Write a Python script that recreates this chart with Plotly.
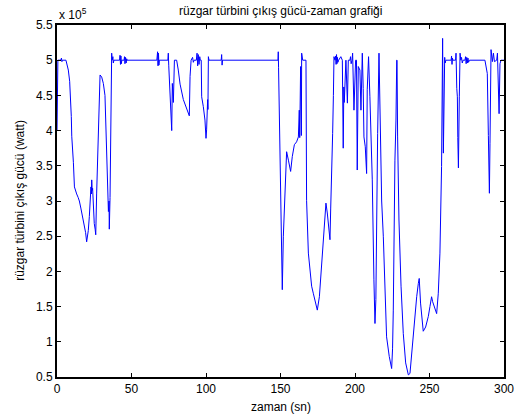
import plotly.graph_objects as go

# time (s)
zaman = [
    0.0, 0.3, 0.6, 2.5, 3.0, 3.3, 3.6, 6.0, 7.0, 7.6, 8.5, 9.2, 9.6, 9.9, 10.5, 11.0, 11.7, 12.5, 13.2, 14.2,
    15.0, 16.0, 16.6, 17.5, 18.3, 19.2, 19.9, 20.5, 21.0, 21.7, 22.1, 22.8, 23.1, 23.3, 23.6, 23.9, 24.4, 25.0,
    25.6, 26.0, 26.6, 27.3, 28.2, 28.9, 30.0, 31.1, 32.2, 32.7, 33.3, 34.0, 34.5, 34.9, 35.1, 35.6, 36.0, 36.4,
    36.7, 37.0, 37.5, 37.8, 38.2, 42.0, 42.3, 42.6, 42.9, 43.2, 43.5, 45.0, 45.3, 45.6, 46.0, 46.4, 46.8, 47.0,
    67.0, 67.5, 67.8, 68.1, 68.4, 68.7, 74.4, 74.7, 75.0, 75.4, 76.0, 77.0, 77.4, 78.1, 78.8, 80.3, 81.4, 82.6,
    84.8, 87.1, 88.8, 89.3, 90.0, 91.0, 91.5, 92.0, 93.5, 94.0, 94.4, 94.8, 95.3, 95.8, 96.2, 96.8, 97.1, 98.2,
    99.3, 100.0, 100.4, 101.1, 101.3, 101.6, 102.0, 110.2, 110.5, 110.8, 111.1, 148.3, 148.5, 148.7, 149.2,
    150.1, 150.8, 151.2, 151.9, 152.6, 153.5, 154.1, 155.3, 156.8, 157.9, 159.3, 160.8, 162.0, 162.6, 162.9,
    163.5, 164.0, 164.2, 164.9, 167.1, 167.5, 168.7, 169.8, 170.9, 172.0, 173.2, 174.7, 176.1, 177.2, 178.3,
    179.4, 180.5, 181.4, 182.3, 183.2, 183.7, 184.3, 185.0, 185.5, 185.9, 186.6, 187.0, 187.3, 187.6, 187.9,
    188.2, 188.5, 189.0, 190.5, 191.0, 191.5, 192.1, 192.5, 192.8, 193.9, 194.9, 195.5, 196.6, 197.0, 197.4,
    198.0, 198.4, 199.3, 199.8, 200.4, 201.0, 201.5, 202.2, 203.3, 204.0, 204.5, 204.9, 205.5, 206.0, 206.9,
    207.8, 208.2, 209.1, 210.0, 210.7, 211.6, 212.7, 213.4, 214.0, 214.5, 215.2, 216.1, 216.8, 217.9, 219.0,
    220.1, 221.2, 223.0, 224.6, 225.2, 225.7, 226.8, 227.5, 228.0, 228.2, 228.6, 229.5, 230.9, 232.4, 234.0,
    235.8, 236.9, 238.0, 239.1, 240.3, 241.4, 242.5, 243.1, 244.0, 245.2, 245.8, 247.4, 249.2, 250.3, 251.4,
    252.1, 253.2, 254.8, 255.9, 257.0, 258.1, 258.6, 258.8, 259.3, 259.7, 260.2, 260.5, 261.0, 264.5, 264.8,
    265.1, 265.4, 265.7, 267.5, 267.8, 268.3, 268.7, 269.0, 269.4, 270.0, 270.5, 271.0, 271.5, 272.0, 272.5,
    273.8, 274.2, 274.6, 275.0, 275.4, 275.8, 276.2, 276.8, 287.2, 287.6, 288.2, 288.8, 289.5, 290.2, 290.6,
    291.3, 292.2, 292.9, 293.6, 294.5, 295.1, 295.6, 296.2, 296.7, 297.3, 298.0, 300.0,
]

# turbine output power (x 10^5 W)
guc = [
    4.00, 4.70, 5.00, 5.00, 5.03, 4.98, 5.00, 5.00, 4.92, 4.86, 4.70, 4.45, 4.20, 3.92, 3.75, 3.55, 3.20, 3.13, 3.10, 3.05,
    3.00, 2.90, 2.84, 2.76, 2.66, 2.55, 2.42, 2.50, 2.58, 2.78, 3.00, 3.20, 3.10, 3.30, 3.15, 3.18, 2.90, 2.68,
    2.60, 2.52, 3.10, 3.60, 4.20, 4.79, 4.76, 4.67, 4.50, 4.20, 3.72, 3.25, 2.85, 3.00, 2.60, 3.05, 4.15, 4.50,
    5.10, 5.00, 5.05, 4.96, 5.00, 5.00, 5.07, 4.94, 5.06, 4.95, 5.00, 5.00, 5.05, 4.95, 5.04, 4.96, 5.02, 5.00,
    5.00, 5.12, 4.92, 5.10, 4.93, 5.00, 5.00, 5.10, 4.92, 4.70, 4.55, 4.00, 4.67, 4.40, 5.00, 5.00, 4.86, 4.66,
    4.44, 4.30, 4.21, 4.77, 5.00, 5.04, 4.97, 5.00, 5.00, 5.10, 4.92, 5.08, 4.94, 5.05, 5.00, 5.00, 4.48, 4.34,
    4.15, 3.89, 4.01, 4.44, 4.30, 5.05, 5.00, 5.00, 5.08, 4.93, 5.00, 5.00, 5.12, 4.90, 4.29,
    2.93, 1.88, 1.74, 2.50, 2.97, 3.49, 3.70, 3.58, 3.42, 3.63, 3.80, 3.84, 3.91, 4.29, 3.90,
    4.91, 3.93, 5.10, 5.00, 5.00, 3.01, 2.26, 1.98, 1.79, 1.69, 1.57, 1.45, 1.64, 1.98, 2.30,
    2.59, 2.97, 2.83, 2.64, 2.45, 2.90, 3.30, 3.96, 4.50, 5.05, 5.00, 5.06, 4.94, 5.08, 4.95,
    5.04, 4.97, 5.00, 5.05, 5.00, 5.00, 3.75, 4.62, 4.40, 5.00, 4.39, 5.00, 5.00, 5.05, 4.95,
    5.00, 5.10, 4.29, 4.60, 5.00, 5.00, 3.44, 4.91, 4.86, 4.29, 5.05, 5.10, 4.60, 3.91, 3.77,
    3.39, 4.58, 5.05, 4.48, 4.05, 3.30, 1.88, 1.26, 1.60, 3.30, 3.96, 5.10, 4.15, 3.00, 2.50,
    1.70, 1.07, 0.79, 0.62, 0.90, 1.45, 3.58, 4.15, 5.00, 5.00, 3.91, 2.73, 1.79, 1.12, 0.70,
    0.53, 0.55, 0.83, 1.07, 1.40, 1.64, 1.83, 1.90, 1.55, 1.31, 1.15, 1.21, 1.36, 1.50, 1.64,
    1.57, 1.50, 1.40, 1.69, 2.26, 3.49, 4.29, 5.31, 3.68, 5.00, 5.04, 4.96, 5.00, 5.00, 5.06,
    4.94, 5.03, 5.00, 5.00, 5.10, 4.60, 4.48, 3.90, 3.47, 4.48, 5.10, 5.00, 5.04, 4.96, 5.00,
    5.00, 5.05, 4.95, 5.04, 4.96, 5.03, 4.97, 5.00, 5.00, 4.95, 4.85, 4.81, 3.93, 3.11, 3.82,
    5.15, 4.98, 5.10, 4.98, 5.00, 5.00, 5.10, 4.48, 4.24, 4.95, 5.00, 5.00,
]

x_ticks = [0, 50, 100, 150, 200, 250, 300]
y_ticks = [0.5, 1, 1.5, 2, 2.5, 3, 3.5, 4, 4.5, 5, 5.5]
y_tick_text = ["0.5", "1", "1.5", "2", "2.5", "3", "3.5", "4", "4.5", "5", "5.5"]

FONT = "Liberation Sans, Arial, Helvetica, sans-serif"

fig = go.Figure()
fig.add_trace(go.Scatter(
    x=zaman, y=guc, mode="lines",
    line=dict(color="#0000ff", width=1),
    hoverinfo="skip", showlegend=False,
))

axis_common = dict(
    showline=True, linecolor="black", linewidth=2, mirror="ticks",
    ticks="inside", ticklen=4, tickcolor="black", tickwidth=1,
    showgrid=False, zeroline=False, automargin=False,
    tickfont=dict(family=FONT, size=12, color="black"),
)

fig.update_layout(
    width=517, height=419,
    margin=dict(l=57, r=13, t=25, b=42, autoexpand=False),
    paper_bgcolor="white", plot_bgcolor="white",
    font=dict(family=FONT, size=12, color="black"),
    xaxis=dict(range=[0, 300], tickvals=x_ticks, ticktext=[str(v) for v in x_ticks], **axis_common),
    yaxis=dict(range=[0.5, 5.5], tickvals=y_ticks, ticktext=y_tick_text, **axis_common),
    annotations=[
        dict(text="rüzgar türbini çıkış gücü-zaman grafiği", xref="paper", yref="paper",
             x=0.5, y=1.04, xanchor="center", yanchor="middle", showarrow=False,
             font=dict(family=FONT, size=12, color="black")),
        dict(text="x 10<sup>5</sup>", xref="paper", yref="paper",
             x=0.0, y=1.0, xanchor="left", yanchor="bottom", showarrow=False, yshift=1,
             font=dict(family=FONT, size=12, color="black")),
        dict(text="zaman (sn)", xref="paper", yref="paper",
             x=0.5, y=-0.085, xanchor="center", yanchor="middle", showarrow=False,
             font=dict(family=FONT, size=12, color="black")),
        dict(text="rüzgar türbini çıkış gücü (watt)", xref="paper", yref="paper",
             x=-0.083, y=0.503, xanchor="center", yanchor="middle", showarrow=False,
             textangle=-90, font=dict(family=FONT, size=12, color="black")),
    ],
)

fig.write_html("out.html")
